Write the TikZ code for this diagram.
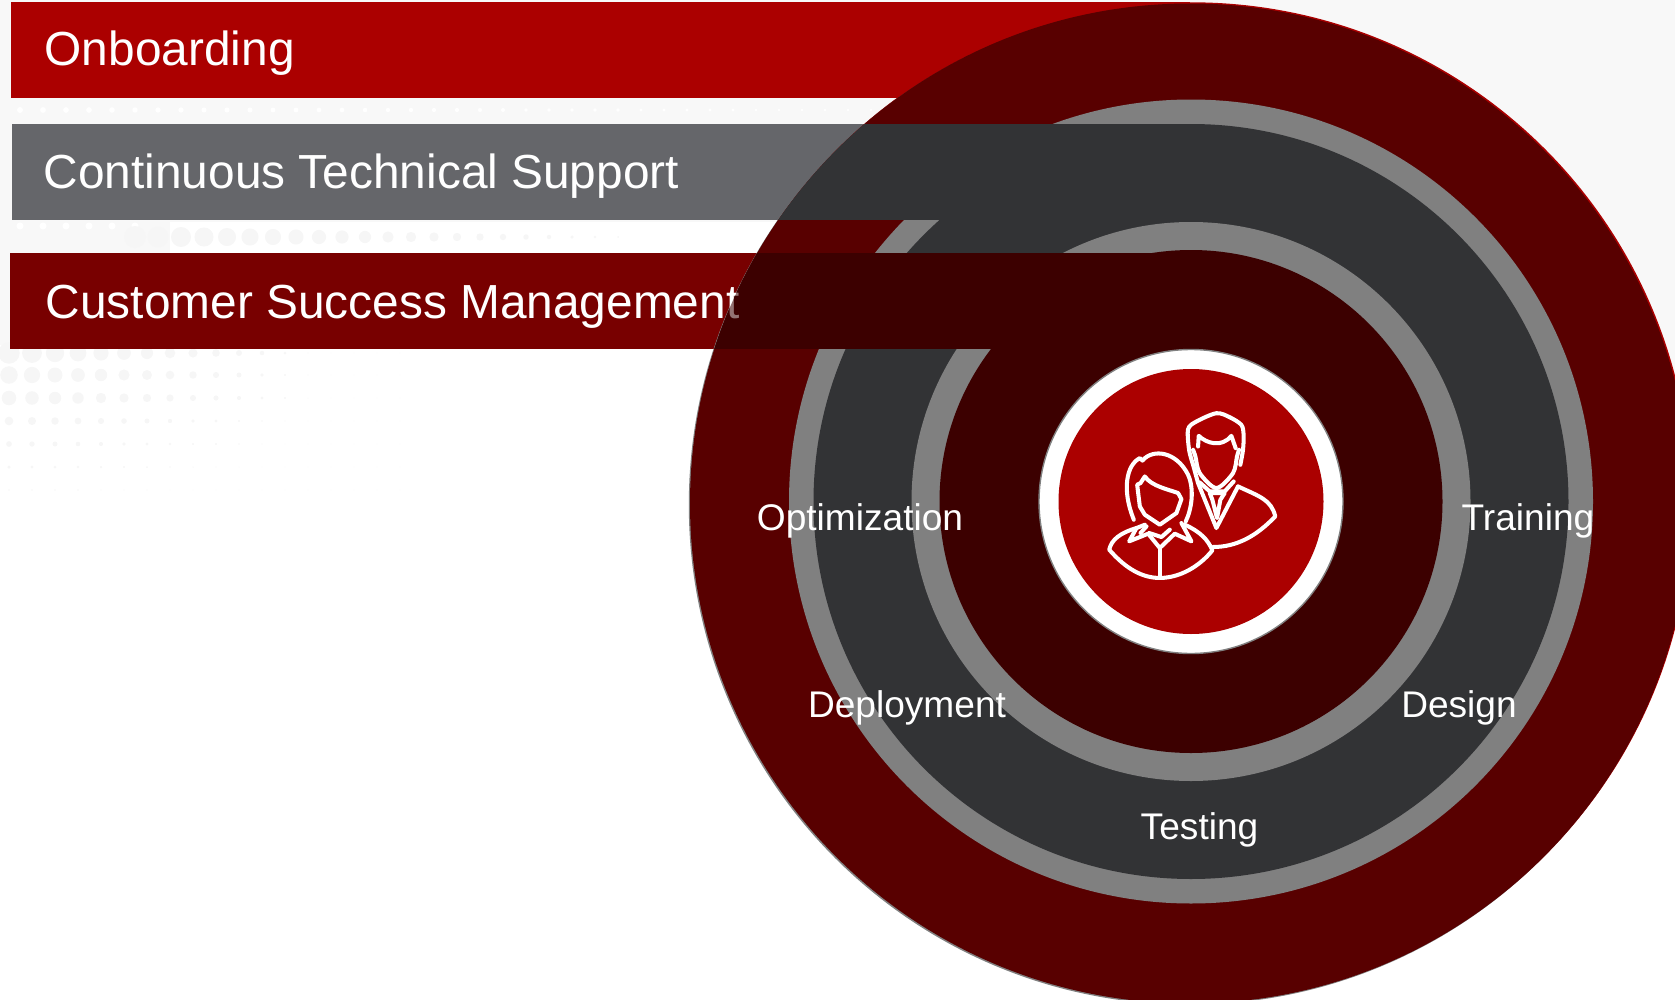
\documentclass[tikz,border=0pt]{standalone}
\usepackage{fontspec}
\setmainfont{Liberation Sans}
\definecolor{barred}{HTML}{AB0000}
\definecolor{bargrey}{HTML}{65666A}
\definecolor{barmaroon}{HTML}{780000}
\definecolor{outerred}{HTML}{580000}
\definecolor{ringgrey}{HTML}{808080}
\definecolor{ringdark}{HTML}{323335}
\definecolor{innerred}{HTML}{3C0000}
\definecolor{paper}{HTML}{F8F8F8}
\definecolor{dotgrey}{HTML}{F6F6F6}
\tikzset{
	barlabel/.style={text=white, anchor=base west, inner sep=0pt, font=\fontsize{13.6pt}{16pt}\selectfont},
	ringlabel/.style={text=white, anchor=base, inner sep=0pt, font=\fontsize{10.55pt}{12pt}\selectfont},
	iconline/.style={draw=white, line width=1.15pt, line join=round, line cap=round}
}
\begin{document}
\begin{tikzpicture}[x=0.01cm, y=-0.01cm]
		\useasboundingbox (0,0) rectangle (1675,1000);
		\coordinate (cen) at (1191,501.5);
		\coordinate (rim) at (1190,503.5);
		% paper and dots
		\fill[paper] (0,0) rectangle (1675,222);
		\fill[paper] (0,222) rectangle (170,253);
		\fill[paper] (0,253) rectangle (10,345);
		\fill[paper] (1300,222) rectangle (1675,400);
		\foreach \x in {20,43,...,900}
			\fill[white] (\x,110) circle ({max(1.2,3-\x/500)});
		\foreach \x in {20,43,...,135}
			\fill[white] (\x,226) circle (3.5);
		\foreach \x in {135,158,...,640}
			\fill[dotgrey] (\x,237) circle ({max(1,11*(1-(\x-135)/520))});
		\foreach \y/\r in {353/11,375/9,398/7.5,421/4.5,444/3,467/1.8,490/1}
			\foreach \x in {9,32,...,400}
				\fill[dotgrey] (\x,\y) circle ({max(0.3,\r*(1-\x/330))});
		% bars
		\fill[barred] (11,2) rectangle (1190,98);
		\fill[bargrey] (12,124) rectangle (1190,220);
		\fill[barmaroon] (10,253) rectangle (1190,349);
		\node[barlabel] (onboarding) at (44,65) {Onboarding};
		\node[barlabel] (support) at (43,188) {Continuous Technical Support};
		% circles
		\fill[barred] ([shift={(1.2,-1.2)}]rim) circle (500);
		\fill[ringgrey] ([shift={(-1.2,1.2)}]rim) circle (500);
		\fill[outerred] (rim) circle (500);
		\fill[ringgrey] (cen) circle (402);
		\fill[ringdark] (cen) circle (377.5);
		\begin{scope}
			\clip (rim) circle (500);
			\fill[ringdark] (600,124) rectangle (1191,220);
		\end{scope}
		\fill[ringgrey] (cen) circle (279.5);
		\fill[innerred] (cen) circle (251.5);
		\begin{scope}
			\clip (rim) circle (500);
			\fill[innerred] (600,253) rectangle (1191,349);
		\end{scope}
		\node[barlabel] (success) at (45,318) {Customer Success Management};
		\begin{scope}
			\clip (rim) circle (500);
			\fill[innerred, opacity=0.55] (600,253) rectangle (800,349);
		\end{scope}
		\filldraw[fill=white, draw=ringgrey, line width=0.4pt] (cen) circle (152);
		\fill[barred] (cen) circle (132.5);
		% people
		\begin{scope}[shift={(1030,340)}, x=0.003333cm, y=-0.003333cm]
			\draw[iconline] plot[smooth] coordinates {(490,375) (478,330) (475,268) (500,245) (560,220) (600,232) (635,255) (642,285) (640,330) (632,375)};
			\draw[iconline] plot[smooth] coordinates {(490,330) (497,350) (510,400) (560,445) (610,400) (622,350) (628,330)};
			\draw[iconline] (505,320) -- (507,288) .. controls (530,310) and (575,325) .. (605,288) -- (618,325);
			\draw[iconline] (490,375) -- (505,430) -- (560,565) -- (625,440);
			\draw[iconline] (510,428) -- (540,455) -- (585,455) -- (612,425);
			\draw[iconline] (540,460) -- (585,460) -- (572,480) -- (562,535) -- (548,480) -- cycle;
			\draw[iconline] (625,440) .. controls (690,470) and (725,480) .. (737,530) .. controls (680,590) and (620,622) .. (550,622);
			\draw[iconline] (338,362) -- (330,355) .. controls (290,375) and (275,450) .. (312,540);
			\draw[iconline] (338,362) .. controls (370,325) and (440,335) .. (475,405) .. controls (495,450) and (485,510) .. (468,545);
			\draw[iconline] (330,500) -- (322,435) -- (332,430) -- (345,410) .. controls (365,440) and (420,450) .. (445,460) -- (455,478) -- (440,520) -- (390,555) -- (345,525) -- cycle;
			\draw[iconline] (345,555) -- (320,565) -- (298,605) -- (355,582) -- (390,625) -- (435,582) -- (485,605) -- (455,550);
			\draw[iconline] (350,560) -- (332,580) (358,580) -- (395,592) -- (420,570);
			\draw[iconline] (320,565) .. controls (270,580) and (245,600) .. (238,630) .. controls (290,690) and (340,715) .. (390,715) .. controls (450,715) and (510,680) .. (548,632) .. controls (535,600) and (510,575) .. (465,555);
			\draw[iconline] (390,625) -- (390,715);
		\end{scope}
		% ring labels
		\node[ringlabel] (optimization) at (860,530) {Optimization};
		\node[ringlabel] (training) at (1528,530) {Training};
		\node[ringlabel] (deployment) at (907,717) {Deployment};
		\node[ringlabel] (design) at (1459,717) {Design};
		\node[ringlabel] (testing) at (1199.5,839) {Testing};
	\end{tikzpicture}
\end{document}
